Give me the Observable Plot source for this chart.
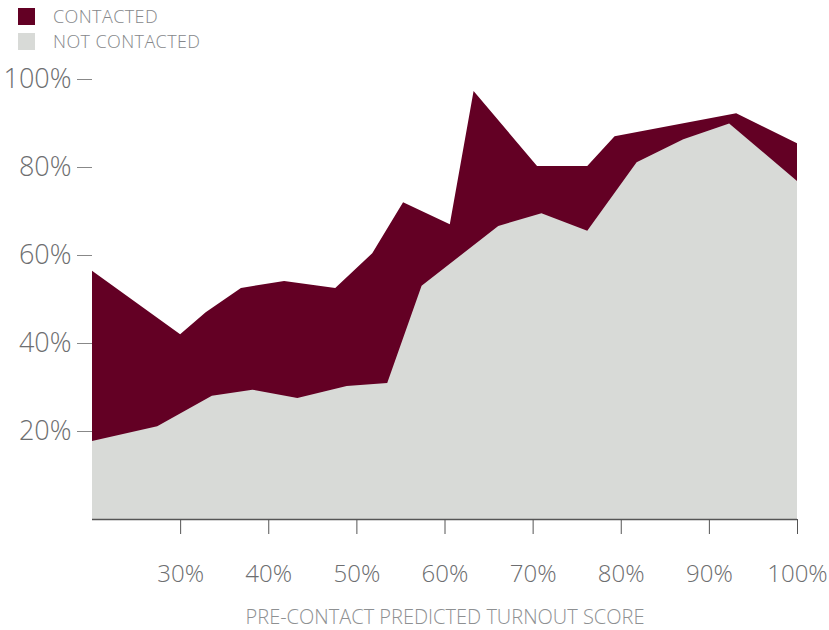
<!DOCTYPE html>
<html>
<head>
<meta charset="utf-8">
<script src="https://cdn.jsdelivr.net/npm/d3@7"></script>
<script src="https://cdn.jsdelivr.net/npm/@observablehq/plot@0.6"></script>
<style>
  html, body { margin: 0; padding: 0; background: #fff; }
  body { width: 829px; height: 630px; overflow: hidden; font-family: "Open Sans", sans-serif; font-weight: 300; }
  #legend { position: relative; height: 55px; }
  .item { position: absolute; left: 18px; height: 18px; display: flex; align-items: center; font-size: 18px; line-height: 18px; color: #85878a; letter-spacing: 0.4px; }
  .item span { display: block; height: 18px; line-height: 18px; white-space: nowrap; }
  .sw { width: 17px; height: 17px; margin-right: 18px; flex: none; }
</style>
</head>
<body>
<div id="legend"></div>
<div id="chart"></div>
<script>
const seriesNames = ["CONTACTED", "NOT CONTACTED"];
const seriesColors = ["#630024", "#d8dad7"];

// Pre-contact predicted turnout score (%) and turnout rate (%)
const contactedX = [20, 30, 32.9, 36.9, 41.8, 47.6, 51.8, 55.3, 60.6, 63.3, 70.5, 76.2, 79.3, 93.1, 100];
const contactedY = [56.4, 42.0, 47.0, 52.5, 54.1, 52.5, 60.4, 72.0, 67.0, 97.3, 80.2, 80.2, 87.0, 92.2, 85.4];

const notContactedX = [20, 27.4, 33.6, 38.2, 43.3, 48.9, 53.5, 57.4, 66.1, 71.0, 76.2, 81.8, 87.1, 92.3, 100];
const notContactedY = [17.7, 21.1, 28.0, 29.4, 27.5, 30.2, 30.9, 53.0, 66.6, 69.5, 65.5, 81.1, 86.3, 89.9, 76.8];

const xTicks = [30, 40, 50, 60, 70, 80, 90, 100];
const yTicks = [20, 40, 60, 80, 100];
const xLabel = "PRE-CONTACT PREDICTED TURNOUT SCORE";

const contacted = contactedX.map((x, i) => ({x, y: contactedY[i]}));
const notContacted = notContactedX.map((x, i) => ({x, y: notContactedY[i]}));

// Legend
const legend = document.getElementById("legend");
seriesNames.forEach((name, i) => {
  const d = document.createElement("div");
  d.className = "item";
  d.style.top = (7 + i * 25) + "px";
  d.innerHTML = `<div class="sw" style="background:${seriesColors[i]}"></div><span>${name}</span>`;
  legend.appendChild(d);
});

const chart = Plot.plot({
  width: 829,
  height: 575,
  marginTop: 24,
  marginBottom: 111,
  marginLeft: 92,
  marginRight: 32,
  style: { fontFamily: "'Open Sans', sans-serif", fontWeight: 300, background: "#fff", overflow: "visible" },
  x: { domain: [20, 100] },
  y: { domain: [0, 100] },
  marks: [
    Plot.areaY(contacted, { x: "x", y: "y", fill: seriesColors[0] }),
    Plot.areaY(notContacted, { x: "x", y: "y", fill: seriesColors[1] }),
    Plot.ruleY([0], { stroke: "#555", strokeWidth: 1.5 }),
    Plot.axisY({ ticks: yTicks, tickSize: 15, tickPadding: 6, tickFormat: d => d + "%", fontSize: 27, stroke: "#888", fill: "#6d6e70", label: null }),
    Plot.axisX({ ticks: xTicks, tickSize: 15, tickPadding: 30, tickFormat: d => d + "%", fontSize: 24, stroke: "#555", fill: "#6d6e70",
      label: xLabel, labelAnchor: "center", labelArrow: "none", labelOffset: 104 })
  ]
});
chart.querySelectorAll("g[aria-label='x-axis label'] text").forEach(t => { t.setAttribute("font-size", 20); t.setAttribute("fill", "#8e9092"); });
document.getElementById("chart").appendChild(chart);
</script>
</body>
</html>
